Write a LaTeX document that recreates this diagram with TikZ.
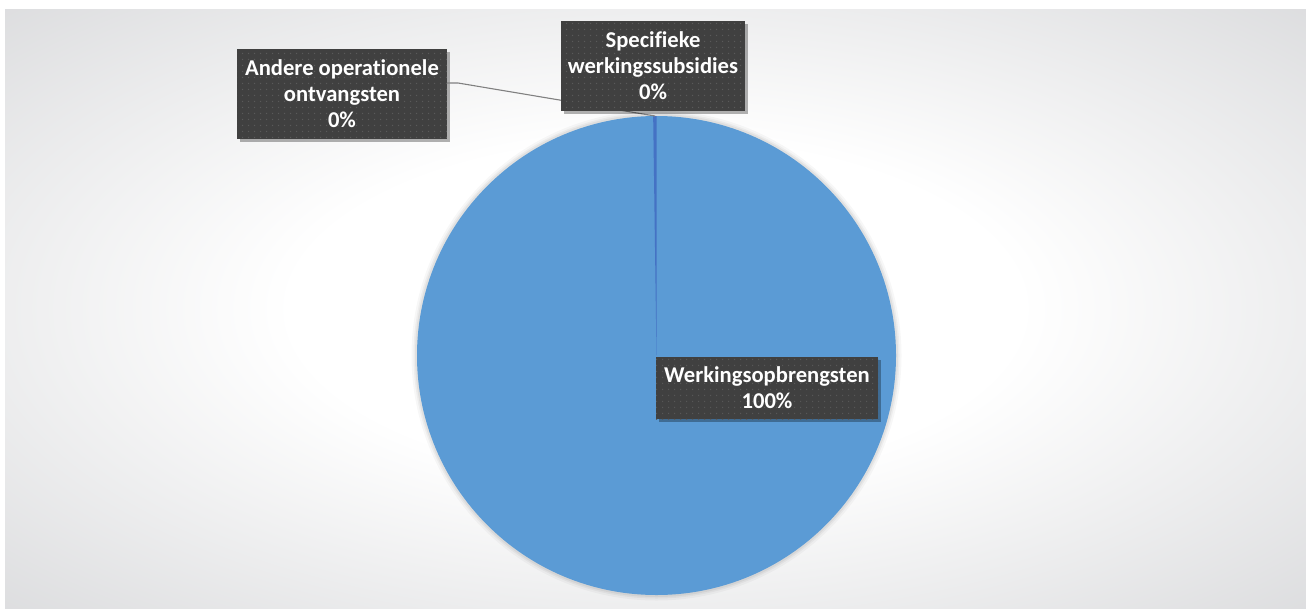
\documentclass[tikz,border=0pt]{standalone}
\usepackage{fontspec}
\setmainfont{Carlito}[Ligatures=CommonOff]
\usetikzlibrary{shadows,patterns.meta}
\definecolor{pieblue}{HTML}{5B9BD5}
\definecolor{piedark}{HTML}{4472C4}
\definecolor{boxgray}{HTML}{404040}
\definecolor{dotgray}{HTML}{5A5A5A}
\definecolor{bgedge}{HTML}{C6C7CA}
\definecolor{leadergray}{HTML}{808080}
\pgfdeclareradialshading{bgshade}{\pgfpoint{0bp}{0bp}}{color(0bp)=(white); color(14bp)=(white); color(50bp)=(bgedge); color(75bp)=(bgedge)}
\tikzdeclarepattern{name=boxdots, type=uncolored, bounding box={(0pt,0pt) and (6pt,6pt)}, tile size={(6pt,6pt)}, code={\fill (3pt,3pt) circle (0.8pt);}}
\begin{document}
\begin{tikzpicture}[x=1pt,y=-1pt,
  lbl/.style={fill=boxgray, text=white, font=\fontsize{22.6}{26}\selectfont\bfseries, align=center, inner sep=0pt,
    drop shadow={shadow xshift=2.5pt, shadow yshift=-3pt, opacity=0.3, fill=black},
    postaction={pattern=boxdots, pattern color=dotgray}},
  leader/.style={draw=leadergray, line width=1.1pt}]
\useasboundingbox (0,0) rectangle (1306,608);
\fill[white] (0,0) rectangle (1306,608);
\shade[shading=bgshade] (5,9) rectangle (1306,608);
% pie
\coordinate (c) at (656.5,355.5);
\foreach \r/\o in {245/0.03, 243/0.04, 241.5/0.05} {\fill[black, opacity=\o] (c) circle (\r);}
\fill[pieblue] (c) circle (239.5);
\fill[piedark] (c) -- ++(-90:239.5) arc[start angle=-90, end angle=-90.8, radius=239.5] -- cycle;
% coordinates for the leader line
\coordinate (slicetop) at (655,116);
\coordinate (bend) at (458,83);
% labels
\node[lbl, minimum width=210pt, minimum height=90pt] (andere) at (342,94) {Andere operationele\\ontvangsten\\0\%};
\draw[leader] ([yshift=11pt]andere.east) -- (bend) -- (slicetop);
\node[lbl, minimum width=184pt, minimum height=90pt] (spec) at (653,66) {Specifieke\\werkingssubsidies\\0\%};
\node[lbl, minimum width=222pt, minimum height=62pt] (werk) at (767,388) {Werkingsopbrengsten\\100\%};
\end{tikzpicture}
\end{document}
